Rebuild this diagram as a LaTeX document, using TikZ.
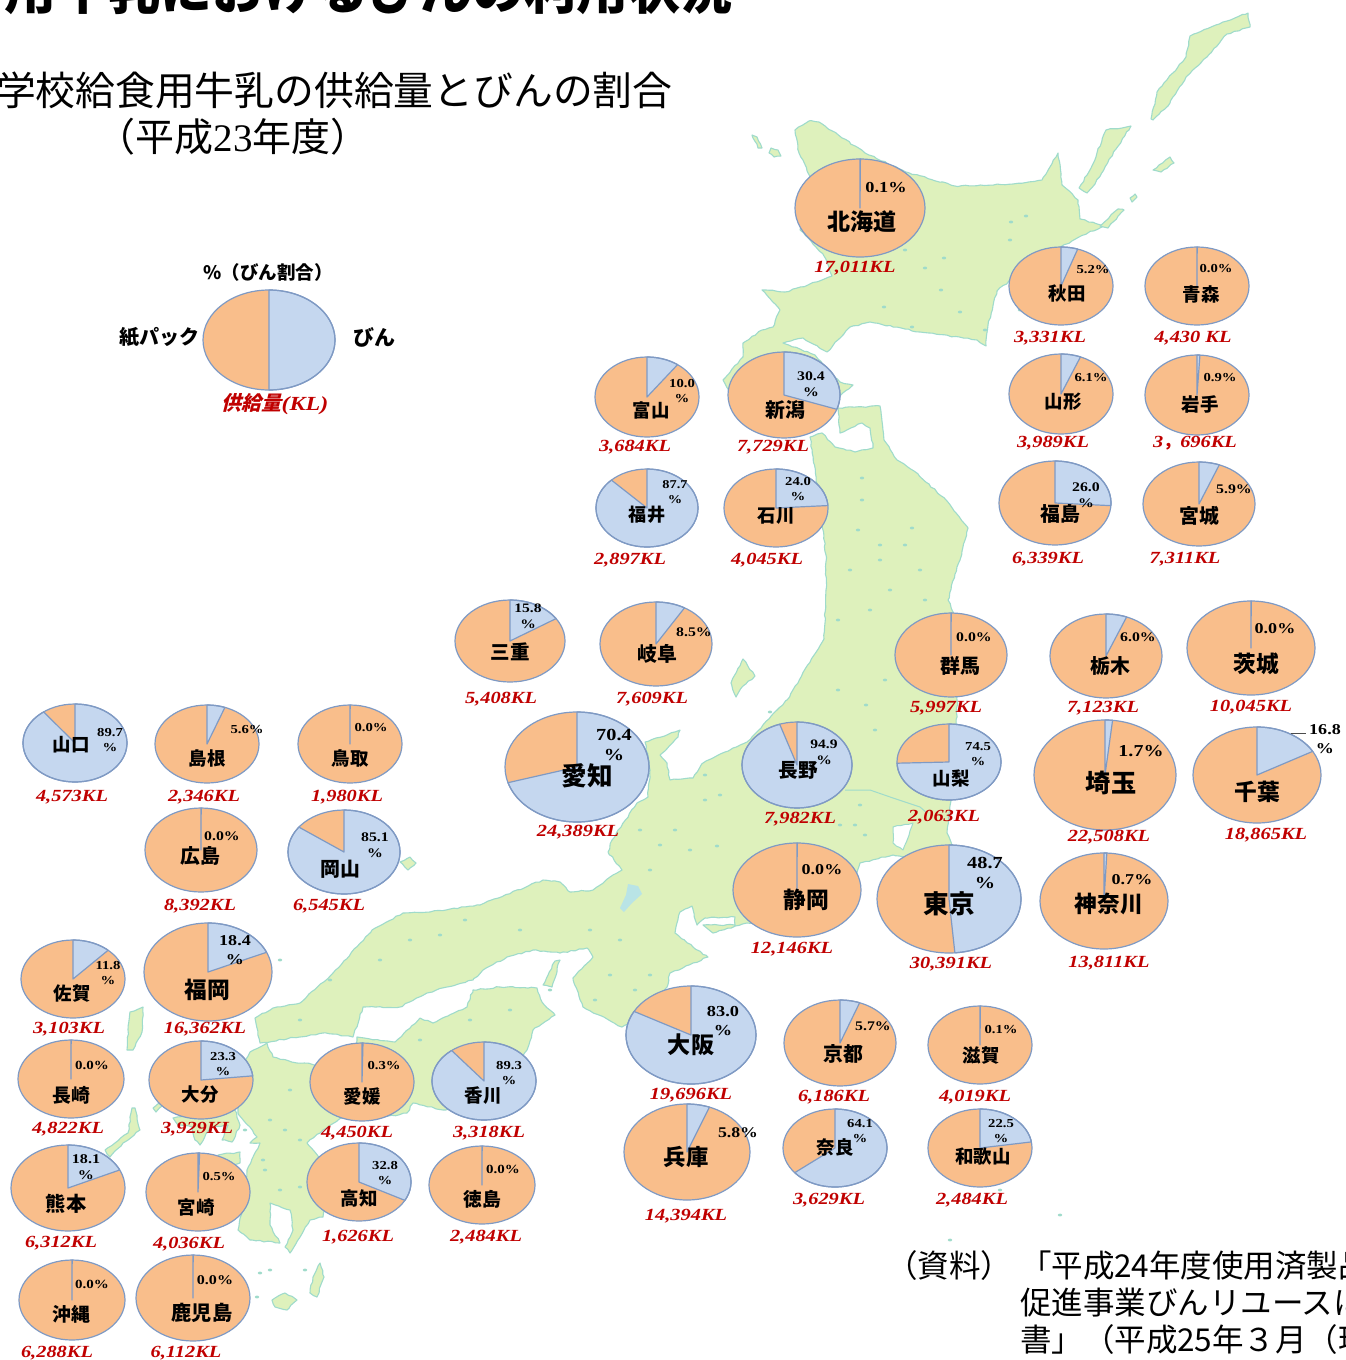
\documentclass[tikz,border=0pt]{standalone}
\usepackage{fontspec}
\usetikzlibrary{decorations.pathmorphing}
\setmainfont{Liberation Serif}
\newfontfamily\cjk{Noto Sans CJK JP}
\newfontfamily\cjkslant[FakeSlant=0.25]{Noto Sans CJK JP}
\newfontfamily\numf[FakeStretch=1.2]{Liberation Serif}
\definecolor{land}{HTML}{DEF1BC}
\definecolor{coast}{HTML}{9FDBCB}
\definecolor{lake}{HTML}{B9E4E6}
\definecolor{paper}{HTML}{F9BE8B}
\definecolor{glass}{HTML}{C5D7EF}
\definecolor{pieedge}{HTML}{7F9AC4}
\definecolor{supply}{HTML}{C00000}
\tikzset{
  island/.style={fill=land,draw=coast,line width=1.1pt,line join=round,decorate,decoration={random steps,segment length=4pt,amplitude=0.7pt}},
  water/.style={fill=white,draw=coast,line width=1pt,line join=round,decorate,decoration={random steps,segment length=4pt,amplitude=0.6pt}},
  inland/.style={fill=lake,draw=none},
  river/.style={draw=coast,line width=1pt},
  plain/.style={inner sep=0pt,outer sep=0pt,align=center},
  pieline/.style={draw=pieedge,line width=1.2pt,line join=round},
}
% id cx cy rx ry pct name nx ny
\newcommand{\jpie}[9]{%
  \def\cid{#1}%
  \pgfmathsetmacro{\ns}{0.355*#4}%
  \pgfmathsetmacro{\ps}{0.235*#4}%
  \pgfmathsetmacro{\pl}{0.29*#4}%
  \fill[paper] (#2,#3) ellipse [x radius=#4pt,y radius=#5pt];
  \fill[glass] (#2,#3) -- plot[domain=90:90-3.6*#6,samples=60] ({#2+#4*cos(\x)},{#3-#5*sin(\x)}) -- cycle;
  \draw[pieline] (#2,#3) -- plot[domain=90:90-3.6*#6,samples=60] ({#2+#4*cos(\x)},{#3-#5*sin(\x)}) -- cycle;
  \draw[pieline] (#2,#3) ellipse [x radius=#4pt,y radius=#5pt];
  \node[plain] (#1-name) at (#8,#9) {\fontsize{\ns}{\ns}\selectfont\cjk\bfseries #7};
}
% label lx ly supply sx sy
\newcommand{\jlab}[6]{%
  \node[plain,font=\fontsize{\ps}{\pl}\selectfont\numf\bfseries] (\cid-pct) at (#2,#3) {#1};
  \node[plain,text=supply,font=\fontsize{17}{17}\selectfont\numf\bfseries\itshape] (\cid-sup) at (#5,#6+1.3) {#4};
}
\begin{document}
\begin{tikzpicture}[x=1pt,y=-1pt]
\useasboundingbox (0,0) rectangle (1346,1360);
\clip (0,0) rectangle (1346,1360);
\fill[white] (0,0) rectangle (1346,1360);

% ---- map ----
% Hokkaido
\draw[island] (809,121) -- (795,130) -- (799,153) -- (812,180) -- (800,230) -- (824,256) -- (832,276) -- (808,285) -- (785,292) -- (762,290) -- (780,310) -- (773,327) -- (762,330) -- (743,343) -- (743,357) -- (723,380) -- (730,392) -- (780,420) -- (840,396) -- (853,385) -- (840,382) -- (815,355) -- (783,343) -- (803,338) -- (827,352) -- (850,327) -- (870,322) -- (920,332) -- (977,340) -- (986,346) -- (988,325) -- (997,291) -- (1030,264) -- (1079,237) -- (1104,226) -- (1080,219) -- (1078,200) -- (1062,185) -- (1058,153) -- (1042,180) -- (1013,184) -- (955,186) -- (906,172) -- (865,153) -- (819,122) -- cycle;
% Nemuro strip and northern islands
\draw[island] (1100,226) -- (1118,209) -- (1124,210) -- (1108,228) -- cycle;
\draw[island] (1079,188) -- (1091,168) -- (1106,130) -- (1131,126) -- (1116,149) -- (1095,184) -- (1087,193) -- cycle;
\draw[island] (1151,119) -- (1157,92) -- (1186,57) -- (1190,36) -- (1227,21) -- (1248,13) -- (1250,27) -- (1227,34) -- (1207,57) -- (1186,77) -- (1170,103) -- (1153,120) -- cycle;
\draw[island] (1153,170) -- (1170,157) -- (1174,163) -- (1161,172) -- cycle;
\draw[island] (1130,198) -- (1135,194) -- (1137,197) -- (1132,202) -- cycle;
\draw[island] (771,148) -- (778,150) -- (781,156) -- (774,157) -- (769,153) -- cycle;
\draw[island] (752,135) -- (757,137) -- (762,148) -- (758,148) -- cycle;
% Honshu
\draw[island] (810,437) -- (822,433) -- (835,447) -- (855,452) -- (873,448) -- (870,428) -- (862,423) -- (840,433) -- (838,408) -- (880,406) -- (884,440) -- (897,460) -- (914,471) -- (947,501) -- (968,528) -- (960,560) -- (955,574) -- (948,600) -- (955,615) -- (958,680) -- (955,760) -- (947,833) -- (952,845) -- (915,860) -- (893,855) -- (860,863) -- (850,900) -- (760,925) -- (747,923) -- (713,933) -- (703,925) -- (735,925) -- (735,917) -- (705,918) -- (697,925) -- (692,906) -- (680,912) -- (675,933) -- (693,947) -- (708,957) -- (670,973) -- (667,987) -- (640,1020) -- (622,1027) -- (583,1007) -- (573,978) -- (593,957) -- (587,948) -- (560,953) -- (533,950) -- (507,957) -- (483,970) -- (473,980) -- (447,987) -- (427,993) -- (400,1007) -- (363,1007) -- (353,1037) -- (323,1033) -- (260,1043) -- (255,1018) -- (273,1008) -- (300,1003) -- (333,973) -- (372,930) -- (403,913) -- (430,912) -- (480,905) -- (543,880) -- (560,882) -- (570,892) -- (593,890) -- (610,877) -- (622,870) -- (608,852) -- (612,840) -- (637,803) -- (648,797) -- (650,770) -- (645,742) -- (680,730) -- (678,737) -- (660,755) -- (667,763) -- (670,780) -- (693,778) -- (703,763) -- (733,748) -- (747,742) -- (777,710) -- (787,700) -- (824,639) -- (826,590) -- (826,555) -- (819,497) -- cycle;
% Tokyo Bay
\draw[water] (893,827) -- (913,823) -- (903,850) -- (893,843) -- cycle;
% Sado, Oki, Awaji
\draw[island] (731,683) -- (743,659) -- (755,676) -- (743,686) -- (736,697) -- cycle;
\draw[island] (400,862) -- (410,857) -- (416,863) -- (408,870) -- cycle;
\draw[island] (560,960) -- (555,961) -- (543,985) -- (552,987) -- cycle;
% Shikoku
\draw[island] (395,1042) -- (420,1018) -- (433,1023) -- (467,1007) -- (473,990) -- (500,987) -- (537,988) -- (542,1002) -- (555,1015) -- (533,1030) -- (527,1050) -- (500,1095) -- (443,1110) -- (413,1103) -- (407,1113) -- (380,1118) -- (350,1100) -- (357,1037) -- cycle;
% Kyushu
\draw[island] (250,1052) -- (267,1043) -- (273,1057) -- (297,1063) -- (323,1065) -- (345,1090) -- (350,1113) -- (323,1130) -- (307,1143) -- (330,1170) -- (323,1217) -- (310,1220) -- (290,1253) -- (285,1247) -- (293,1230) -- (290,1210) -- (270,1203) -- (270,1225) -- (280,1243) -- (250,1240) -- (238,1230) -- (243,1207) -- (247,1170) -- (260,1143) -- (250,1143) -- (257,1137) -- (250,1127) -- (238,1113) -- (240,1070) -- cycle;
% Nagasaki and Saga side, Amakusa
\draw[island] (173,1118) -- (200,1115) -- (235,1110) -- (240,1125) -- (232,1142) -- (222,1140) -- (228,1125) -- (210,1127) -- (200,1145) -- (195,1140) -- (192,1127) -- (178,1125) -- cycle;
\draw[island] (218,1155) -- (240,1152) -- (240,1163) -- (225,1168) -- cycle;
\draw[island] (153,1108) -- (160,1102) -- (162,1106) -- (156,1112) -- cycle;
% Tsushima, Goto, southern islands
\draw[island] (130,1012) -- (143,1007) -- (142,1032) -- (133,1050) -- (127,1050) -- (128,1030) -- cycle;
\draw[island] (132,1108) -- (135,1108) -- (140,1130) -- (123,1143) -- (110,1157) -- (105,1150) -- (128,1133) -- cycle;
\draw[island] (320,1263) -- (324,1277) -- (317,1297) -- (310,1293) -- (313,1277) -- cycle;
\draw[island] (272,1300) -- (285,1293) -- (297,1300) -- (287,1310) -- (275,1307) -- cycle;
% Lake Biwa
\fill[lake] (628,884) -- (638,886) -- (642,894) -- (632,903) -- (624,912) -- (620,908) -- (626,895) -- cycle;
\draw[river] (845,790) -- (870,790) -- (893,798) -- (920,807) -- (927,813);
\foreach \lx/\ly in {1011/222,1026/216,1010/240,944/258,925/268,884/307,912/327,960/312,1020/310,985/330,913/200,870/244,905/250,885/215,941/290,
  862/478,862/500,858/530,880/545,912/528,905/545,880/560,850/570,920/570,890/590,925/600,838/620,870/610,838/690,866/705,885/680,
  875/730,720/795,705/800,675/830,650/870,660/845,690/850,717/846,770/820,855/825,865/835,860/805,840/825,
  770/712,705/775,595/1000,610/975,635/990,650/975,
  640/830,620/940,590/930,520/930,465/920,440/935,410/940,380/960,330/980,300/1020,
  470/1020,510/1010,420/1040,290/1090,270/1120,300/1140,265/1170,280/1190,285/1130,263/1160,950/1240,1060/1215,260/1273,270/1270,305/1270,257/1297,280/960,550/990,1000/1190,245/1130,300/1187} {
  \fill[coast] (\lx,\ly) ellipse [x radius=2.2pt,y radius=1.4pt];
}

% ---- titles ----
\node[plain,anchor=west] (title) at (5,-10) {\fontsize{52}{52}\selectfont\cjk\bfseries 用牛乳におけるびんの利用状況};
\node[plain,anchor=west] (sub1) at (-4,90) {\fontsize{39.8}{39.8}\selectfont\cjk 学校給食用牛乳の供給量とびんの割合};
\node[plain] (sub2) at (233,137) {\fontsize{39}{39}\selectfont\cjk （平成{\rmfamily 23}年度）};
\node[plain,anchor=west] (src0) at (886,1266) {\fontsize{31.5}{31.5}\selectfont\cjk （資料）};
\node[plain,anchor=west] (src1) at (1020,1266) {\fontsize{31.5}{31.5}\selectfont\cjk 「平成24年度使用済製品};
\node[plain,anchor=west] (src2) at (1020,1303) {\fontsize{31.5}{31.5}\selectfont\cjk 促進事業びんリユースに};
\node[plain,anchor=west] (src3) at (1020,1340) {\fontsize{31.5}{31.5}\selectfont\cjk 書」（平成25年３月（環};

% ---- legend ----
\jpie{legend}{269}{340}{66}{50}{50}{}{269}{340}
\node[plain] (lg-top) at (268,272) {\fontsize{18.5}{18.5}\selectfont\cjk\bfseries\%（びん割合）};
\node[plain] (lg-left) at (159,337) {\fontsize{20}{20}\selectfont\cjk\bfseries 紙パック};
\node[plain] (lg-right) at (374,337) {\fontsize{21}{21}\selectfont\cjk\bfseries びん};
\node[plain,text=supply] (lg-sup) at (275,404) {\fontsize{20}{20}\selectfont\cjkslant\bfseries 供給量{\numf\itshape(KL)}};

% ---- prefectures ----
\jpie{hokkaido}{860}{208}{65}{49}{0.1}{北海道}{862}{222}\jlab{0.1\%}{886}{188}{17,011KL}{855}{267}
\jpie{akita}{1061}{286}{52}{39}{5.2}{秋田}{1067}{294}\jlab{5.2\%}{1093}{270}{3,331KL}{1050}{337}
\jpie{aomori}{1197}{286}{52}{39}{0.05}{青森}{1201}{294}\jlab{0.0\%}{1216}{269}{4,430 KL}{1193}{337}
\jpie{yamagata}{1061}{394}{52}{40}{6.1}{山形}{1063}{402}\jlab{6.1\%}{1091}{378}{3,989KL}{1053}{442}
\jpie{iwate}{1197}{395}{52}{40}{0.9}{岩手}{1200}{404}\jlab{0.9\%}{1220}{378}{3{\cjk ，}696KL}{1195}{442}
\jpie{fukushima}{1055}{503}{56}{42}{26.0}{福島}{1060}{514}\jlab{26.0\\\%}{1086}{495}{6,339KL}{1048}{558}
\jpie{miyagi}{1199}{504}{56}{42}{5.9}{宮城}{1199}{516}\jlab{5.9\%}{1234}{489}{7,311KL}{1185}{558}
\jpie{toyama}{647}{397}{52}{40}{10.0}{富山}{651}{410}\jlab{10.0\\\%}{682}{391}{3,684KL}{635}{446}
\jpie{niigata}{784}{395}{56}{43}{30.4}{新潟}{785}{410}\jlab{30.4\\\%}{811}{384}{7,729KL}{773}{446}
\jpie{fukui}{647}{508}{51}{39}{87.7}{福井}{647}{515}\jlab{87.7\\\%}{675}{492}{2,897KL}{630}{559}
\jpie{ishikawa}{776}{508}{52}{39}{24.0}{石川}{776}{516}\jlab{24.0\\\%}{798}{489}{4,045KL}{767}{559}
\jpie{mie}{510}{641}{55}{41}{15.8}{三重}{510}{652}\jlab{15.8\\\%}{528}{616}{5,408KL}{501}{698}
\jpie{gifu}{656}{644}{56}{42}{8.5}{岐阜}{657}{654}\jlab{8.5\%}{694}{632}{7,609KL}{652}{698}
\jpie{gunma}{951}{655}{56}{42}{0.05}{群馬}{960}{666}\jlab{0.0\%}{974}{637}{5,997KL}{946}{707}
\jpie{tochigi}{1106}{656}{56}{42}{6.0}{栃木}{1110}{666}\jlab{6.0\%}{1138}{637}{7,123KL}{1103}{707}
\jpie{ibaraki}{1251}{648}{64}{47}{0.05}{茨城}{1256}{664}\jlab{0.0\%}{1275}{629}{10,045KL}{1251}{706}
\jpie{aichi}{577}{767}{72}{55}{70.4}{愛知}{587}{776}\jlab{70.4\\\%}{614}{745}{24,389KL}{578}{831}
\jpie{nagano}{797}{765}{55}{43}{94.9}{長野}{798}{770}\jlab{94.9\\\%}{824}{752}{7,982KL}{800}{818}
\jpie{yamanashi}{949}{762}{52}{38}{74.5}{山梨}{951}{779}\jlab{74.5\\\%}{978}{754}{2,063KL}{944}{816}
\jpie{saitama}{1105}{775}{71}{55}{1.7}{埼玉}{1111}{783}\jlab{1.7\%}{1141}{751}{22,508KL}{1109}{836}
\jpie{chiba}{1257}{775}{64}{48}{16.8}{千葉}{1257}{792}\jlab{16.8\\\%}{1325}{739}{18,865KL}{1266}{834}
\coordinate (chiba-lead) at (1306,733);
\coordinate (chiba-tip) at (1291,733);
\draw[line width=0.8pt,black!70] (chiba-tip) -- (chiba-lead);
\jpie{yamaguchi}{75}{743}{52}{39}{89.7}{山口}{71}{745}\jlab{89.7\\\%}{110}{740}{4,573KL}{72}{796}
\jpie{shimane}{207}{744}{52}{39}{5.6}{島根}{207}{758}\jlab{5.6\%}{247}{730}{2,346KL}{204}{796}
\jpie{tottori}{350}{744}{52}{39}{0.05}{鳥取}{350}{758}\jlab{0.0\%}{371}{728}{1,980KL}{347}{796}
\jpie{hiroshima}{201}{850}{56}{42}{0.05}{広島}{200}{856}\jlab{0.0\%}{222}{836}{8,392KL}{200}{905}
\jpie{okayama}{344}{852}{56}{42}{85.1}{岡山}{340}{869}\jlab{85.1\\\%}{375}{845}{6,545KL}{329}{905}
\jpie{saga}{73}{979}{52}{39}{11.8}{佐賀}{72}{994}\jlab{11.8\\\%}{108}{973}{3,103KL}{69}{1028}
\jpie{fukuoka}{208}{972}{64}{49}{18.4}{福岡}{207}{990}\jlab{18.4\\\%}{235}{950}{16,362KL}{205}{1028}
\jpie{nagasaki}{71}{1079}{53}{39}{0.05}{長崎}{71}{1095}\jlab{0.0\%}{92}{1065}{4,822KL}{68}{1128}
\jpie{oita}{201}{1080}{52}{39}{23.3}{大分}{200}{1095}\jlab{23.3\\\%}{223}{1064}{3,929KL}{197}{1128}
\jpie{ehime}{362}{1082}{52}{39}{0.3}{愛媛}{362}{1096}\jlab{0.3\%}{384}{1066}{4,450KL}{357}{1132}
\jpie{kagawa}{484}{1081}{52}{39}{89.3}{香川}{483}{1096}\jlab{89.3\\\%}{509}{1073}{3,318KL}{489}{1132}
\jpie{kumamoto}{68}{1188}{57}{43}{18.1}{熊本}{66}{1204}\jlab{18.1\\\%}{86}{1167}{6,312KL}{61}{1242}
\jpie{miyazaki}{198}{1192}{52}{39}{0.5}{宮崎}{196}{1207}\jlab{0.5\%}{219}{1177}{4,036KL}{189}{1243}
\jpie{kochi}{359}{1182}{52}{39}{32.8}{高知}{359}{1198}\jlab{32.8\\\%}{385}{1173}{1,626KL}{358}{1236}
\jpie{tokushima}{482}{1185}{53}{39}{0.05}{徳島}{482}{1199}\jlab{0.0\%}{503}{1169}{2,484KL}{486}{1236}
\jpie{okinawa}{72}{1300}{53}{40}{0.05}{沖縄}{71}{1314}\jlab{0.0\%}{92}{1284}{6,288KL}{57}{1352}
\jpie{kagoshima}{193}{1298}{57}{43}{0.05}{鹿児島}{202}{1313}\jlab{0.0\%}{215}{1280}{6,112KL}{186}{1352}
\jpie{shizuoka}{797}{890}{64}{47}{0.05}{静岡}{806}{900}\jlab{0.0\%}{822}{870}{12,146KL}{792}{948}
\jpie{tokyo}{949}{899}{72}{54}{48.7}{東京}{949}{904}\jlab{48.7\\\%}{985}{873}{30,391KL}{951}{963}
\jpie{kanagawa}{1104}{901}{64}{48}{0.7}{神奈川}{1109}{904}\jlab{0.7\%}{1132}{880}{13,811KL}{1109}{962}
\jpie{osaka}{691}{1035}{65}{49}{83.0}{大阪}{691}{1045}\jlab{83.0\\\%}{723}{1021}{19,696KL}{691}{1094}
\jpie{kyoto}{840}{1043}{56}{43}{5.7}{京都}{843}{1054}\jlab{5.7\%}{873}{1026}{6,186KL}{834}{1096}
\jpie{shiga}{980}{1045}{52}{39}{0.1}{滋賀}{981}{1056}\jlab{0.1\%}{1001}{1030}{4,019KL}{975}{1096}
\jpie{hyogo}{687}{1152}{63}{48}{5.8}{兵庫}{686}{1157}\jlab{5.8\%}{738}{1133}{14,394KL}{686}{1215}
\jpie{nara}{835}{1148}{52}{39}{64.1}{奈良}{835}{1147}\jlab{64.1\\\%}{860}{1131}{3,629KL}{829}{1199}
\jpie{wakayama}{980}{1148}{52}{39}{22.5}{和歌山}{983}{1157}\jlab{22.5\\\%}{1001}{1131}{2,484KL}{972}{1199}
\end{tikzpicture}
\end{document}
